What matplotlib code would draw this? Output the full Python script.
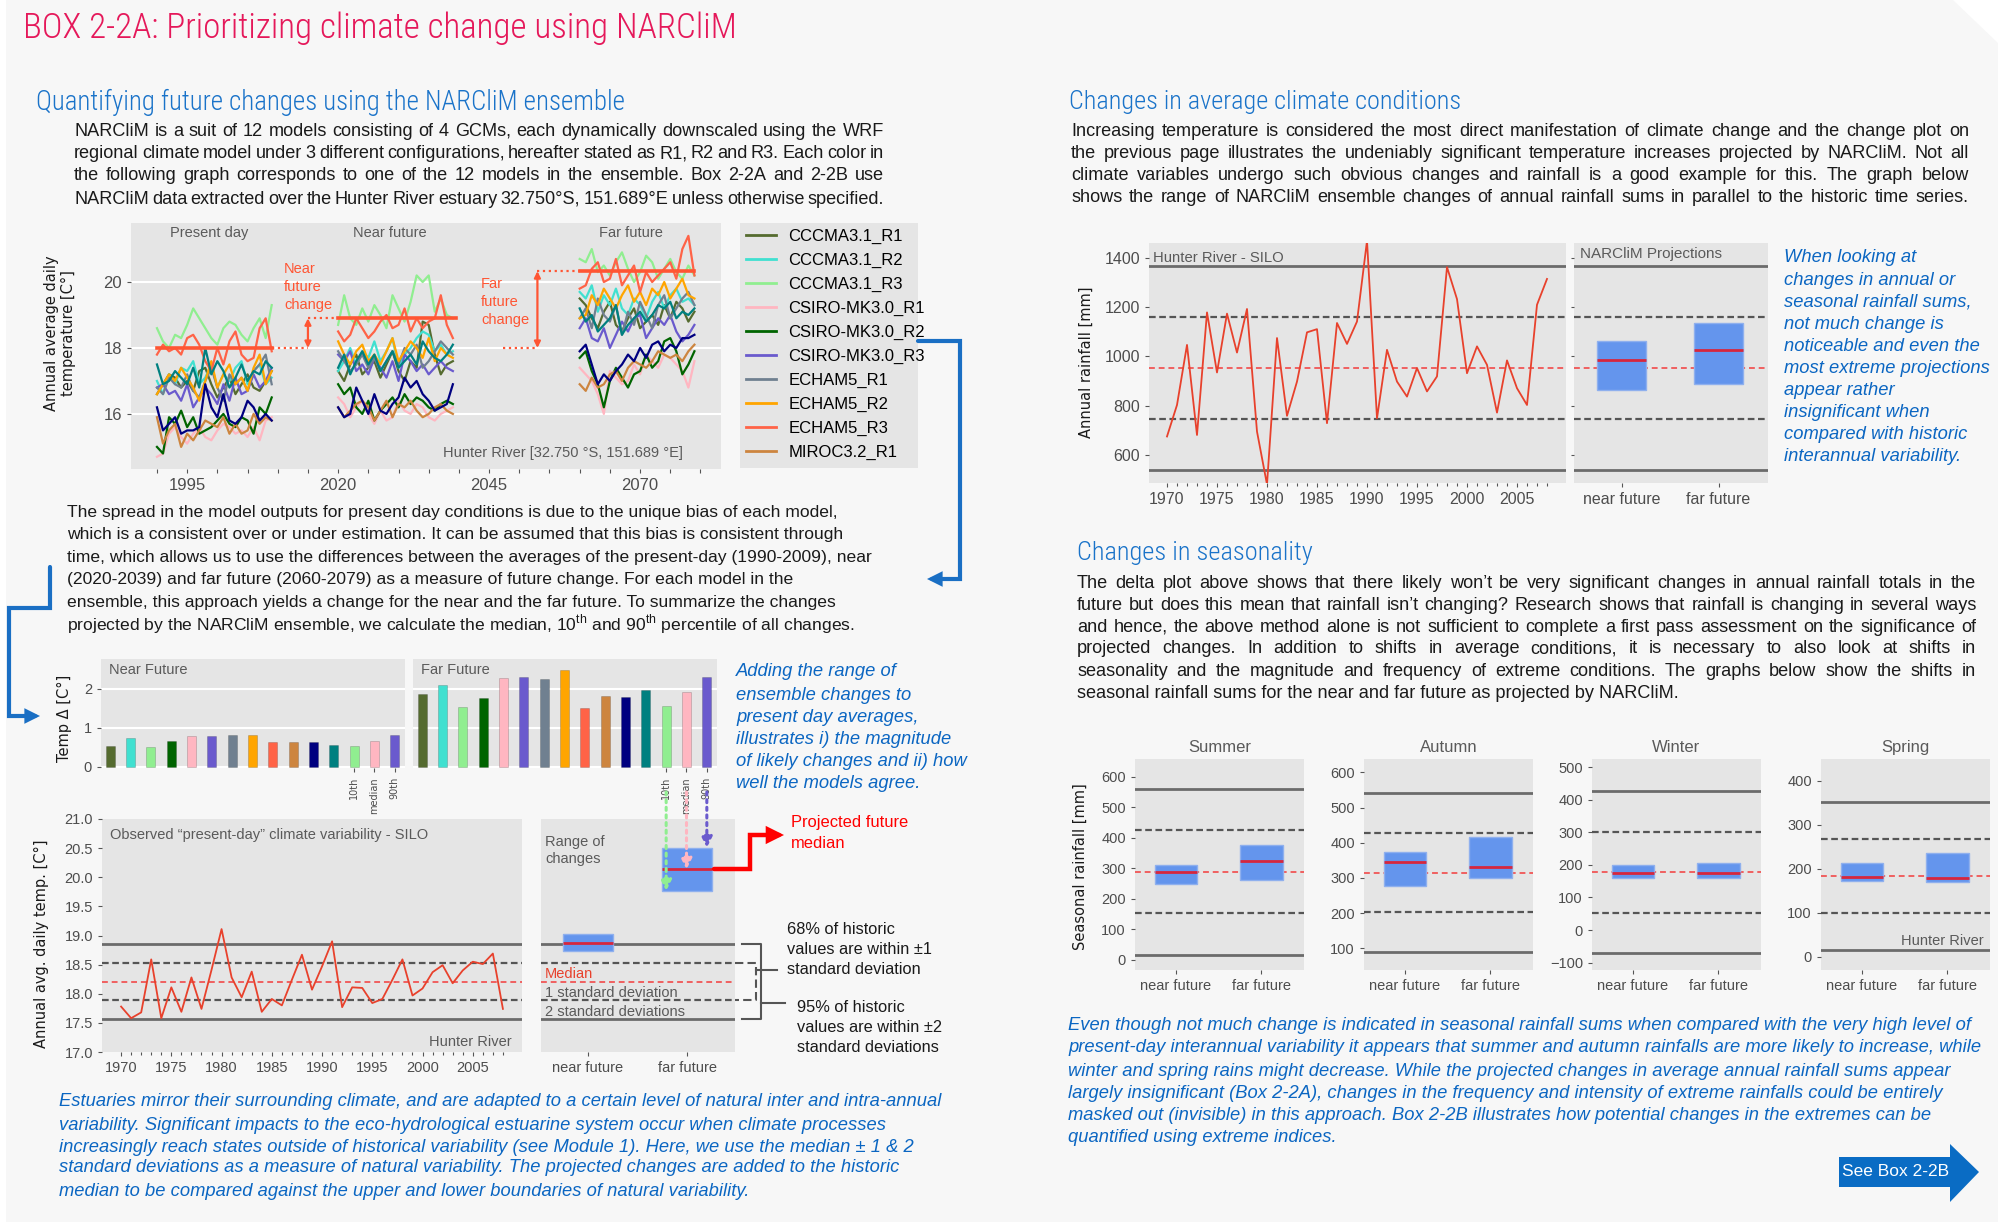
import numpy as np
import matplotlib
matplotlib.use("Agg")
import matplotlib.pyplot as plt
import matplotlib.transforms as mtransforms
from matplotlib.lines import Line2D
from matplotlib.patches import Polygon, FancyArrowPatch, ConnectionPatch
from matplotlib.path import Path

# ---------------- data ----------------
models = ["CCCMA3.1_R1", "CCCMA3.1_R2", "CCCMA3.1_R3", "CSIRO-MK3.0_R1",
          "CSIRO-MK3.0_R2", "CSIRO-MK3.0_R3", "ECHAM5_R1", "ECHAM5_R2",
          "ECHAM5_R3", "MIROC3.2_R1", "MIROC3.2_R2", "MIROC3.2_R3"]
model_colors = ["#556b2f", "#40e0d0", "#90ee90", "#ffb6c1", "#006400", "#6a5acd",
                "#708090", "#ffa500", "#ff6347", "#cd853f", "#000080", "#008080"]

years_present = np.arange(1990, 2010)
years_near = np.arange(2020, 2040)
years_far = np.arange(2060, 2080)

present_day = [
    "16.6 16.9 17.2 17.1 16.8 17.0 16.7 17.3 17.4 16.9 16.5 16.8 17.1 16.6 16.9 17.2 16.8 16.7 17.0 17.3",
    "17.0 16.6 17.2 16.9 17.4 17.3 17.6 16.9 17.1 17.5 16.8 17.2 17.0 17.4 17.6 16.9 17.3 17.5 16.9 17.1",
    "18.6 18.2 18.0 18.4 18.3 18.7 19.2 18.9 18.6 18.3 18.1 18.6 18.8 18.7 18.4 18.2 18.6 18.9 18.3 19.3",
    "14.7 14.8 15.4 15.6 15.3 15.1 15.4 15.6 15.3 15.2 15.5 15.7 15.6 15.4 15.5 15.3 15.6 15.2 15.8 15.9",
    "15.0 14.8 15.9 15.7 16.1 15.6 15.9 15.4 15.5 15.6 15.8 16.0 15.7 15.6 15.9 15.8 15.4 16.2 16.0 16.5",
    "16.8 16.9 16.6 16.7 16.4 16.9 16.2 16.5 16.8 16.6 16.3 16.9 16.4 17.1 16.6 16.7 17.2 16.8 17.0 17.4",
    "16.8 16.6 17.1 16.9 16.8 17.2 16.7 16.5 17.0 17.4 16.8 16.4 17.2 16.9 17.1 16.7 17.3 17.5 17.8 16.9",
    "16.6 16.9 17.2 17.0 17.4 17.1 16.8 16.4 17.0 17.6 16.8 17.2 17.5 16.9 17.1 16.7 17.4 17.8 16.9 17.3",
    "17.8 18.1 17.9 18.0 17.8 18.3 18.4 18.1 17.6 17.3 18.0 17.5 18.2 18.5 17.8 17.6 17.7 18.6 18.9 17.9",
    "15.9 15.1 15.5 15.7 15.0 15.4 15.2 15.5 15.8 15.7 15.6 15.9 15.4 15.7 15.4 15.5 16.0 15.7 15.9 15.8",
    "16.2 15.5 15.7 15.9 15.4 15.5 15.5 15.6 16.9 16.2 15.9 16.6 15.8 15.7 15.9 16.4 16.2 15.8 16.0 15.8",
    "17.5 16.9 17.0 17.3 17.1 16.9 17.4 16.8 18.0 17.2 17.6 17.3 16.8 17.1 17.5 17.0 17.3 17.2 17.6 17.4",
]
near_future = [
    "17.3 17.0 17.5 17.8 17.2 17.4 17.6 17.1 17.5 17.9 17.3 17.0 17.6 17.4 18.8 18.7 17.8 17.2 17.5 17.6",
    "17.3 17.6 18.0 17.5 17.9 17.7 18.2 17.6 17.9 18.3 17.4 17.8 18.0 18.3 18.5 18.4 17.9 18.1 17.8 17.9",
    "18.7 19.6 18.9 18.7 19.2 18.8 19.3 19.0 18.6 19.6 19.2 18.8 19.4 20.2 20.0 20.2 19.1 19.5 19.0 18.9",
    "16.5 16.3 15.9 16.2 16.4 16.0 15.7 16.1 15.8 15.9 16.4 16.1 16.0 16.3 16.2 15.9 15.8 16.0 16.1 16.2",
    "16.9 16.6 16.8 16.2 16.0 16.4 15.8 16.1 16.3 16.5 16.2 16.6 16.3 16.5 16.4 16.2 16.1 16.3 16.4 16.3",
    "17.8 17.6 17.9 17.3 17.5 17.2 17.7 17.4 17.1 17.6 17.0 17.8 17.6 17.3 17.5 17.2 17.4 17.6 17.4 17.3",
    "17.9 17.6 17.3 17.5 17.8 17.4 17.7 17.3 17.6 17.9 17.5 18.0 17.8 18.1 17.4 17.6 17.9 18.2 18.0 17.8",
    "18.2 17.8 17.5 17.9 18.1 17.6 17.8 17.5 17.9 18.3 17.6 17.9 18.2 18.0 17.7 18.3 17.6 18.0 17.8 17.7",
    "18.5 18.2 18.4 18.9 18.6 18.3 18.5 18.8 19.0 18.6 18.7 19.2 18.5 18.9 18.6 18.8 18.9 19.6 18.7 18.3",
    "16.2 15.9 16.1 16.3 16.4 16.2 15.8 16.1 16.4 15.9 16.3 16.2 16.4 16.1 15.9 16.0 16.2 16.3 16.1 16.0",
    "16.2 15.9 16.0 16.8 16.4 16.0 16.6 16.1 16.0 16.3 16.5 17.1 16.8 17.0 16.6 16.4 16.1 16.2 16.3 16.9",
    "17.4 17.8 17.2 17.6 17.9 17.5 17.8 17.3 17.6 17.9 17.4 17.6 17.8 17.5 18.2 17.9 17.7 17.6 17.8 18.1",
]
far_future = [
    "19.5 19.3 18.9 18.6 19.1 19.4 18.7 18.5 18.9 19.2 18.6 18.8 19.0 18.7 19.3 18.9 19.4 19.2 18.8 19.1",
    "19.7 19.5 19.9 19.1 19.6 19.3 19.8 19.2 19.0 19.5 19.3 18.9 19.4 19.7 19.2 19.6 19.8 19.4 19.5 19.3",
    "20.7 20.6 21.0 20.3 20.5 20.2 20.6 20.9 20.4 20.0 20.3 20.8 20.6 20.1 20.4 20.7 20.3 20.1 20.5 20.2",
    "17.4 17.2 17.0 16.6 16.0 17.3 17.1 16.9 17.0 17.5 17.2 17.8 17.6 17.4 17.8 17.7 17.5 17.3 16.8 17.6",
    "17.7 17.9 17.3 16.9 16.2 17.0 17.4 17.1 16.8 17.2 17.3 17.8 17.4 17.6 18.2 18.3 17.9 17.2 17.5 17.9",
    "18.6 18.9 18.3 18.2 18.6 18.0 18.4 18.8 18.5 18.9 19.0 18.3 18.6 18.9 18.7 19.0 18.5 18.2 18.4 18.7",
    "18.9 19.2 18.6 19.5 19.0 18.8 19.3 18.4 19.1 18.7 19.4 19.0 18.6 19.3 19.6 18.9 19.2 19.5 19.7 19.3",
    "18.9 19.0 19.6 19.3 19.8 19.5 19.2 19.6 19.9 19.4 19.7 19.3 19.8 19.6 20.0 19.5 19.8 20.1 19.6 19.5",
    "19.8 19.9 20.4 20.6 20.0 20.1 20.7 19.9 20.2 20.5 19.7 20.3 20.0 20.2 20.4 20.6 20.1 21.0 21.4 20.2",
    "16.9 16.7 17.1 16.8 16.9 17.2 17.3 17.0 17.4 17.6 17.5 17.4 17.6 17.9 17.8 17.7 17.8 17.6 17.9 18.1",
    "17.9 18.1 17.5 16.9 17.2 17.0 17.3 17.5 17.8 17.6 18.0 17.7 18.1 18.2 17.9 18.1 18.0 18.3 18.3 18.4",
    "19.2 18.8 19.0 18.5 18.7 18.9 19.3 18.4 18.7 18.9 19.1 18.8 19.0 19.3 19.2 19.4 18.9 19.1 19.0 19.2",
]
# illustrative period means drawn in red (present, near, far)
demo_means = [18.0, 18.9, 20.33]

# ensemble changes, in the order the bars are drawn
bar_models = ["CCCMA3.1_R1", "CCCMA3.1_R2", "CCCMA3.1_R3", "CSIRO-MK3.0_R2",
              "CSIRO-MK3.0_R1", "CSIRO-MK3.0_R3", "ECHAM5_R1", "ECHAM5_R2",
              "ECHAM5_R3", "MIROC3.2_R1", "MIROC3.2_R2", "MIROC3.2_R3"]
near_change = [0.53, 0.75, 0.52, 0.66, 0.80, 0.78, 0.82, 0.82, 0.65, 0.65, 0.65, 0.55]
far_change = [1.88, 2.10, 1.53, 1.78, 2.27, 2.30, 2.25, 2.50, 1.52, 1.81, 1.80, 1.97]
stat_labels = ["10th", "median", "90th"]
stat_colors = ["#90ee90", "#ffb6c1", "#6a5acd"]

silo_years = np.arange(1970, 2009)
silo_temp = [17.78, 17.58, 17.68, 18.59, 17.58, 18.11, 17.69, 18.28, 17.74, 18.41,
             19.11, 18.28, 17.94, 18.38, 17.69, 17.91, 17.80, 18.24, 18.67, 18.07,
             18.47, 18.90, 17.77, 18.11, 18.10, 17.84, 17.91, 18.24, 18.59, 17.97,
             18.09, 18.37, 18.49, 18.18, 18.40, 18.55, 18.51, 18.69, 17.74]
temp_median = 18.21
temp_sd = 0.32

silo_rain = [675, 803, 1047, 681, 1179, 935, 1174, 1016, 1193, 695,
             480, 1075, 759, 898, 1098, 1111, 729, 1136, 1051, 1142,
             1470, 749, 1027, 898, 837, 953, 858, 919, 1363, 1233,
             932, 1041, 966, 772, 984, 871, 803, 1210, 1315]
rain_median = 952
rain_sd = 207
rain_near = [862, 986, 1061]   # 10th, median, 90th
rain_far = [889, 1026, 1138]

seasons = ["Summer", "Autumn", "Winter", "Spring"]
season_median = [289, 315, 178, 184]
season_sd = [136, 113, 125, 84]
season_near = [[249, 289, 312], [276, 345, 373], [159, 175, 200], [171, 180, 214]]
season_far = [[261, 323, 376], [299, 332, 416], [159, 175, 206], [169, 178, 235]]
periods = ["near future", "far future"]

# ---------------- styling ----------------
W, H = 2000, 1222
BODY = ["Liberation Sans", "DejaVu Sans"]
HEAD = ["Roboto Condensed", "Liberation Sans Narrow", "Liberation Sans", "DejaVu Sans"]
PAGE = "#f7f7f7"
PANEL = "#e5e5e5"
INK = "#1a1a1a"
BLUE = "#0b66c2"
HEADBLUE = "#1a73c9"
GREY = "#5a5a5a"
TICKL = "#4d4d4d"
BOXC = "#6495ed"
MEDC = "#d7263d"
SERIES = "#e8412c"
TXT_L = 12.6      # left column body
TXT_R = 13.1      # right column body / first paragraph
TXT_I = 13.2      # blue italic notes

plt.rcParams["font.family"] = BODY
plt.rcParams["mathtext.fontset"] = "custom"
plt.rcParams["mathtext.rm"] = "Liberation Sans"

fig = plt.figure(figsize=(20, 12.22), dpi=100, facecolor="white")
R = fig.canvas.get_renderer()


def fxy(x, y):
    return x / W, 1 - y / H


def put(x, y, s, size=TXT_L, color=INK, family=BODY, **kw):
    kw.setdefault("va", "center")
    return fig.text(x / W, 1 - y / H, s, fontsize=size, color=color, family=family, **kw)


def justify(x0, x1, y, line, size=TXT_L, color=INK, style="normal"):
    words = line.split()
    objs = [put(x0, y, w, size, color, style=style) for w in words]
    widths = [o.get_window_extent(R).width for o in objs]
    gap = (x1 - x0 - sum(widths)) / max(len(words) - 1, 1)
    pos = x0
    for o, w in zip(objs, widths):
        o.set_x(pos / W)
        pos += w + gap


def heading(x, y, s, width, color, base=20):
    t = put(x, y, s, base, color, family=HEAD, weight="light")
    w = t.get_window_extent(R).width
    t.set_fontsize(base * width / w)


def panel(x0, y0, x1, y1):
    a = fig.add_axes([x0 / W, 1 - y1 / H, (x1 - x0) / W, (y1 - y0) / H])
    a.set_facecolor(PANEL)
    for s in a.spines.values():
        s.set_visible(False)
    a.tick_params(which="both", colors="#555555", labelcolor=TICKL, length=3, width=0.8)
    return a


def ref_lines(ax, med, sd):
    ax.axhline(med + 2 * sd, color="#6b6b6b", lw=2)
    ax.axhline(med - 2 * sd, color="#6b6b6b", lw=2)
    ax.axhline(med + sd, color="#555555", lw=1.6, ls=(0, (3, 1.6)))
    ax.axhline(med - sd, color="#555555", lw=1.6, ls=(0, (3, 1.6)))
    ax.axhline(med, color="#f06060", lw=1.4, ls=(0, (3, 2)))


def boxes(ax, stats_list):
    for i, (lo, md, hi) in enumerate(stats_list):
        ax.bar(i, hi - lo, bottom=lo, width=0.5, color=BOXC, edgecolor="#8fb0ee", lw=1, zorder=3)
        ax.hlines(md, i - 0.25, i + 0.25, color=MEDC, lw=2, zorder=4)


# page with cut corner
page = np.array([(6, 0), (1953, 0), (1998, 43), (1998, 1222), (6, 1222)], float)
fig.add_artist(Polygon(np.c_[page[:, 0] / W, 1 - page[:, 1] / H], closed=True,
                       transform=fig.transFigure, fc=PAGE, ec="none", zorder=-10))

# ---------------- headings and body text ----------------
heading(23, 28, "BOX 2-2A: Prioritizing climate change using NARCliM", 714, "#e5185a", 26)
heading(36, 102, "Quantifying future changes using the NARCliM ensemble", 588, HEADBLUE)
heading(1069, 102, "Changes in average climate conditions", 392, HEADBLUE)
heading(1077, 553, "Changes in seasonality", 235, HEADBLUE)

p1 = ["NARCliM is a suit of 12 models consisting of 4 GCMs, each dynamically downscaled using the WRF",
      "regional climate model under 3 different configurations, hereafter stated as R1, R2 and R3. Each color in",
      "the following graph corresponds to one of the 12 models in the ensemble. Box 2-2A and 2-2B use",
      "NARCliM data extracted over the Hunter River estuary 32.750°S, 151.689°E unless otherwise specified."]
for line, y in zip(p1, [131, 154, 176, 199]):
    justify(74, 884, y, line, TXT_R)

p2 = ["The spread in the model outputs for present day conditions is due to the unique bias of each model,",
      "which is a consistent over or under estimation. It can be assumed that this bias is consistent through",
      "time, which allows us to use the differences between the averages of the present-day (1990-2009), near",
      "(2020-2039) and far future (2060-2079) as a measure of future change. For each model in the",
      "ensemble, this approach yields a change for the near and the far future. To summarize the changes",
      r"projected by the NARCliM ensemble, we calculate the median, 10$^{\mathrm{th}}$ and 90$^{\mathrm{th}}$ percentile of all changes."]
for line, y in zip(p2, [513, 535, 557, 579, 602, 624]):
    put(67, y, line)

side1 = ["Adding the range of", "ensemble changes to", "present day averages,",
         "illustrates i) the magnitude", "of likely changes and ii) how", "well the models agree."]
for line, y in zip(side1, [672, 695, 718, 740, 761, 783]):
    put(736, y, line, TXT_I, BLUE, style="italic")

p_bl = ["Estuaries mirror their surrounding climate, and are adapted to a certain level of natural inter and intra-annual",
        "variability. Significant impacts to the eco-hydrological estuarine system occur when climate processes",
        "increasingly reach states outside of historical variability (see Module 1). Here, we use the median ± 1 & 2",
        "standard deviations as a measure of natural variability. The projected changes are added to the historic",
        "median to be compared against the upper and lower boundaries of natural variability."]
for line, y in zip(p_bl, [1102, 1125, 1147, 1168, 1191]):
    put(59, y, line, TXT_I, BLUE, style="italic")

p3 = ["Increasing temperature is considered the most direct manifestation of climate change and the change plot on",
      "the previous page illustrates the undeniably significant temperature increases projected by NARCliM. Not all",
      "climate variables undergo such obvious changes and rainfall is a good example for this. The graph below",
      "shows the range of NARCliM ensemble changes of annual rainfall sums in parallel to the historic time series."]
for line, y in zip(p3, [131, 153, 176, 198]):
    justify(1071, 1969, y, line, TXT_R)

side2 = ["When looking at", "changes in annual or", "seasonal rainfall sums,", "not much change is",
         "noticeable and even the", "most extreme projections", "appear rather", "insignificant when",
         "compared with historic", "interannual variability."]
for i, line in enumerate(side2):
    put(1784, 258 + 22.1 * i, line, TXT_I, BLUE, style="italic")

p4 = ["The delta plot above shows that there likely won\u2019t be very significant changes in annual rainfall totals in the",
      "future but does this mean that rainfall isn\u2019t changing? Research shows that rainfall is changing in several ways",
      "and hence, the above method alone is not sufficient to complete a first pass assessment on the significance of",
      "projected changes. In addition to shifts in average conditions, it is necessary to also look at shifts in",
      "seasonality and the magnitude and frequency of extreme conditions. The graphs below show the shifts in"]
for line, y in zip(p4, [583, 605, 627, 649, 672]):
    justify(1077, 1976, y, line, TXT_R)
put(1077, 694, "seasonal rainfall sums for the near and far future as projected by NARCliM.", TXT_R)

p_br = ["Even though not much change is indicated in seasonal rainfall sums when compared with the very high level of",
        "present-day interannual variability it appears that summer and autumn rainfalls are more likely to increase, while",
        "winter and spring rains might decrease. While the projected changes in average annual rainfall sums appear",
        "largely insignificant (Box 2-2A), changes in the frequency and intensity of extreme rainfalls could be entirely",
        "masked out (invisible) in this approach. Box 2-2B illustrates how potential changes in the extremes can be",
        "quantified using extreme indices."]
for line, y in zip(p_br, [1026, 1048, 1071, 1093, 1115, 1137]):
    put(1068, y, line, TXT_I, BLUE, style="italic")

# ---------------- chart 1: ensemble time series ----------------
P = np.array([[float(v) for v in s.split()] for s in present_day])
N = np.array([[float(v) for v in s.split()] for s in near_future])
F = np.array([[float(v) for v in s.split()] for s in far_future])

ax1 = panel(131, 223, 721, 469)
handles = []
for i, c in enumerate(model_colors):
    ax1.plot(years_present, P[i], color=c, lw=1.6)
    ax1.plot(years_near, N[i], color=c, lw=1.6)
    h, = ax1.plot(years_far, F[i], color=c, lw=1.6)
    handles.append(h)
ax1.set_xlim(1985.7, 2083.4)
ax1.set_ylim(14.33, 21.79)
ax1.set_yticks([16, 18, 20])
ax1.set_xticks([1995, 2020, 2045, 2070])
ax1.set_xticks(np.arange(1990, 2081, 5), minor=True)
ax1.tick_params(labelsize=12)
ax1.yaxis.grid(True, color="white", lw=1.5)
ax1.set_axisbelow(True)

red = "#ff5533"
pm, nm, fm = demo_means
ax1.plot([1990, 2009], [pm, pm], color=red, lw=2.6, zorder=6)
ax1.plot([2009, 2015], [pm, pm], color=red, lw=1.6, ls=":", zorder=6)
ax1.plot([2015, 2020], [nm, nm], color=red, lw=1.6, ls=":", zorder=6)
ax1.plot([2020, 2039.5], [nm, nm], color=red, lw=2.6, zorder=6)
ax1.plot([2047.3, 2053], [pm, pm], color=red, lw=1.6, ls=":", zorder=6)
ax1.plot([2053, 2060], [fm, fm], color=red, lw=1.6, ls=":", zorder=6)
ax1.plot([2060, 2079], [fm, fm], color=red, lw=2.6, zorder=6)
for xa, y0, y1 in [(2015, pm, nm), (2053, pm, fm)]:
    ax1.annotate("", xy=(xa, y1), xytext=(xa, y0), zorder=7,
                 arrowprops=dict(arrowstyle="<|-|>", color=red, lw=1.6, mutation_scale=9,
                                 shrinkA=0, shrinkB=0))
ax1.text(1998.6, 21.49, "Present day", ha="center", va="center", fontsize=10.5, color=GREY)
ax1.text(2028.6, 21.49, "Near future", ha="center", va="center", fontsize=10.5, color=GREY)
ax1.text(2068.5, 21.49, "Far future", ha="center", va="center", fontsize=10.5, color=GREY)
ax1.text(0.935, 0.065, "Hunter River [32.750 °S, 151.689 °E]", transform=ax1.transAxes,
         ha="right", va="center", fontsize=10.5, color=GREY)
for i, s in enumerate(["Near", "future", "change"]):
    put(284, 269 + 18 * i, s, 10.5, red)
for i, s in enumerate(["Far", "future", "change"]):
    put(481, 284 + 18 * i, s, 10.5, red)
put(60, 333, "Annual average daily\ntemperature [C°]", 10.5, INK, family="DejaVu Sans",
    rotation=90, ha="center", linespacing=1.15)

lax = panel(740, 223, 918, 468)
lax.set_xticks([])
lax.set_yticks([])
leg = lax.legend(handles[:10], models[:10], loc="upper left", bbox_to_anchor=(0, 1),
                 frameon=False, fontsize=12, handlelength=1.8, handletextpad=0.75,
                 labelspacing=0.53, borderaxespad=0.15, borderpad=0.2)
for ln in leg.get_lines():
    ln.set_linewidth(2)

# ---------------- chart 2: change bars ----------------
color_of = dict(zip(models, model_colors))
bar_colors = [color_of[m] for m in bar_models] + stat_colors
axN = panel(101, 659, 405, 768)
axF = panel(413, 659, 717, 768)
for ax, ch, lab in [(axN, near_change, "Near Future"), (axF, far_change, "Far Future")]:
    vals = list(ch) + list(np.percentile(ch, [10, 50, 90]))
    ax.bar(np.arange(len(vals)), vals, width=0.45, color=bar_colors, edgecolor="#00000030", lw=0.6)
    ax.set_xlim(-0.45, 14.5)
    ax.set_ylim(-0.03, 2.77)
    ax.set_yticks([0, 1, 2])
    ax.set_xticks([12, 13, 14])
    ax.set_xticklabels(stat_labels, rotation=90, fontsize=7, family="DejaVu Sans")
    ax.yaxis.grid(True, color="white", lw=1.5)
    ax.set_axisbelow(True)
    ax.text(0.025, 0.9, lab, transform=ax.transAxes, fontsize=10.5, color=GREY, va="center")
axN.tick_params(axis="y", labelsize=10.5)
axF.tick_params(axis="y", labelleft=False, length=0)
put(64, 718, "Temp Δ [C°]", 10.5, INK, family="DejaVu Sans", rotation=90, ha="center")

# ---------------- chart 3: observed temperature and range of changes ----------------
ax3 = panel(102, 819, 522, 1052)
ref_lines(ax3, temp_median, temp_sd)
ax3.plot(silo_years, silo_temp, color=SERIES, lw=1.3, zorder=5)
ax3.set_xlim(1968.1, 2009.9)
ax3.set_ylim(17, 21)
ax3.set_yticks(np.arange(17, 21.01, 0.5))
ax3.set_yticklabels([f"{v:.1f}" for v in np.arange(17, 21.01, 0.5)])
ax3.set_xticks(np.arange(1970, 2006, 5))
ax3.set_xticks(silo_years, minor=True)
ax3.tick_params(which="minor", length=2)
ax3.tick_params(labelsize=10.5)
ax3.text(0.02, 0.93, "Observed \u201cpresent-day\u201d climate variability - SILO", transform=ax3.transAxes,
         fontsize=10.5, color=GREY, va="center")
ax3.text(0.975, 0.045, "Hunter River", transform=ax3.transAxes, ha="right", va="center",
         fontsize=10.5, color=GREY)
put(41, 944, "Annual avg. daily temp. [C°]", 10.5, INK, family="DejaVu Sans", rotation=90, ha="center")

axR = panel(541, 819, 735, 1052)
ref_lines(axR, temp_median, temp_sd)
near_box = list(temp_median + np.percentile(near_change, [10, 50, 90]))
far_box = list(temp_median + np.percentile(far_change, [10, 50, 90]))
boxes(axR, [near_box, far_box])
axR.set_xlim(-0.47, 1.48)
axR.set_ylim(17, 21)
axR.set_xticks([0, 1])
axR.set_xticklabels(periods, fontsize=10.5)
axR.set_yticks([])
axR.text(0.02, 0.93, "Range of\nchanges", transform=axR.transAxes, fontsize=10.5, color=GREY,
         va="top", linespacing=1.25)
put(545, 974, "Median", 10.5, "#e8412c")
put(545, 993, "1 standard deviation", 10.5, GREY)
put(545, 1012, "2 standard deviations", 10.5, GREY)

# braces beside the range panel
bt = mtransforms.blended_transform_factory(axR.transAxes, axR.transData)
hi2, lo2 = temp_median + 2 * temp_sd, temp_median - 2 * temp_sd
hi1, lo1 = temp_median + temp_sd, temp_median - temp_sd
axR.plot([1.036, 1.133, 1.133, 1.036], [hi2, hi2, lo2, lo2], transform=bt, clip_on=False,
         color="#555555", lw=1.5)
axR.plot([1.133, 1.26], [17.84, 17.84], transform=bt, clip_on=False, color="#555555", lw=1.5)
axR.plot([1.0, 1.108, 1.108, 1.0], [hi1, hi1, lo1, lo1], transform=bt, clip_on=False,
         color="#555555", lw=1.5, ls=(0, (4, 2)))
axR.plot([1.108, 1.215], [18.4, 18.4], transform=bt, clip_on=False, color="#555555", lw=1.5)
for i, s in enumerate(["68% of historic", "values are within ±1", "standard deviation"]):
    put(787, 929 + 20 * i, s, 11.8, INK)
for i, s in enumerate(["95% of historic", "values are within ±2", "standard deviations"]):
    put(797, 1007 + 20 * i, s, 11.8, INK)

# dotted arrows from the stat bars to the far-future box
tA = mtransforms.blended_transform_factory(axF.transData, fig.transFigure)
tB = mtransforms.blended_transform_factory(axF.transData, axR.transData)
for idx, yv, c in zip([12, 13, 14], far_box, stat_colors):
    con = ConnectionPatch(xyA=(idx, 1 - 792 / H), coordsA=tA, xyB=(idx, yv), coordsB=tB,
                          arrowstyle="-|>", ls=(0, (1, 1.5)), lw=2.2, color=c, mutation_scale=16,
                          shrinkA=0, shrinkB=0, zorder=8)
    fig.add_artist(con)

# red arrow to "Projected future median"
inv = fig.transFigure.inverted()
sx, sy = inv.transform(axR.transData.transform((1.27, far_box[1])))
red_path = Path([(sx, sy), (750 / W, sy), (750 / W, 1 - 835 / H), (784 / W, 1 - 835 / H)])
fig.add_artist(FancyArrowPatch(path=red_path, arrowstyle="-|>", mutation_scale=20, lw=3.2,
                               color="#ff0000", transform=fig.transFigure, joinstyle="miter",
                               shrinkA=0, shrinkB=0))
put(791, 823, "Projected future", 11.9, "#ff0000")
put(791, 843, "median", 11.9, "#ff0000")

# blue connector arrows
for pts in [[(918, 341), (960, 341), (960, 579), (927, 579)],
            [(50, 567), (50, 608), (9, 608), (9, 716), (40, 716)]]:
    fp = Path([fxy(x, y) for x, y in pts])
    fig.add_artist(FancyArrowPatch(path=fp, arrowstyle="-|>", mutation_scale=16, lw=3,
                                   color="#1a6fc4", transform=fig.transFigure, joinstyle="miter",
                                   shrinkA=0, shrinkB=0))

# ---------------- chart 4: annual rainfall ----------------
axr = panel(1149, 243, 1566, 483)
ref_lines(axr, rain_median, rain_sd)
axr.plot(silo_years, silo_rain, color=SERIES, lw=1.3, zorder=5)
axr.set_xlim(1968.2, 2009.9)
axr.set_ylim(486, 1461)
axr.set_yticks(np.arange(600, 1401, 200))
axr.set_xticks(np.arange(1970, 2006, 5))
axr.set_xticks(silo_years, minor=True)
axr.tick_params(which="minor", length=2)
axr.tick_params(labelsize=11.5)
axr.text(0.01, 0.937, "Hunter River - SILO", transform=axr.transAxes, fontsize=10.7,
         color=GREY, va="center")
put(1086, 362, "Annual rainfall [mm]", 10.5, INK, family="DejaVu Sans", rotation=90, ha="center")

axp = panel(1574, 243, 1768, 483)
ref_lines(axp, rain_median, rain_sd)
boxes(axp, [rain_near, rain_far])
axp.set_xlim(-0.49, 1.51)
axp.set_ylim(486, 1461)
axp.set_yticks(np.arange(600, 1401, 200))
axp.tick_params(axis="y", labelleft=False, length=2)
axp.set_xticks([0, 1])
axp.set_xticklabels(periods, fontsize=11.5)
axp.text(0.03, 0.955, "NARCliM Projections", transform=axp.transAxes, fontsize=11,
         color=GREY, va="center")

# ---------------- chart 5: seasonal rainfall ----------------
season_x = [(1135, 1304), (1364, 1533), (1592, 1761), (1821, 1990)]
season_ylim = [(-33, 659), (38, 638), (-123, 526), (-30, 449)]
season_ticks = [np.arange(0, 601, 100), np.arange(100, 601, 100),
                np.arange(-100, 501, 100), np.arange(0, 401, 100)]
for k, name in enumerate(seasons):
    ax = panel(season_x[k][0], 759, season_x[k][1], 970)
    ref_lines(ax, season_median[k], season_sd[k])
    boxes(ax, [season_near[k], season_far[k]])
    ax.set_xlim(-0.48, 1.5)
    ax.set_ylim(*season_ylim[k])
    ax.set_yticks(season_ticks[k])
    ax.set_xticks([0, 1])
    ax.set_xticklabels(periods)
    ax.tick_params(labelsize=10.5)
    ax.text(0.5, 1.055, name, transform=ax.transAxes, ha="center", va="center",
            fontsize=12, color=GREY)
    if name == "Spring":
        ax.text(0.96, 0.137, "Hunter River", transform=ax.transAxes, ha="right",
                va="center", fontsize=10.5, color=GREY)
put(1080, 867, "Seasonal rainfall [mm]", 10.5, INK, family="DejaVu Sans", rotation=90, ha="center")

# ---------------- "See Box 2-2B" arrow ----------------
arr = np.array([(1839, 1157), (1950, 1157), (1950, 1144), (1979, 1172),
                (1950, 1202), (1950, 1187), (1839, 1187)], float)
fig.add_artist(Polygon(np.c_[arr[:, 0] / W, 1 - arr[:, 1] / H], closed=True,
                       transform=fig.transFigure, fc="#0a6cc4", ec="none"))
put(1896, 1172, "See Box 2-2B", 12.5, "white", ha="center")

fig.savefig("out.png", dpi=100, facecolor=fig.get_facecolor())
